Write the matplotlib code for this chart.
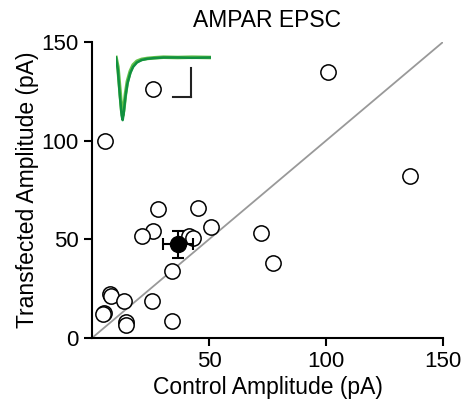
import matplotlib.pyplot as plt

plt.rcParams['font.family'] = ['Liberation Sans', 'DejaVu Sans']

# individual cells (control vs transfected amplitude, pA)
control = [5.5, 26, 101, 136, 28, 45.3, 50.7, 26, 21.2, 41.6, 43.3, 72.1, 77.2,
           34, 7.7, 8, 13.7, 25.5, 5.1, 4.8, 14.5, 14.5, 34.2]
transfected = [100, 126, 135, 82, 65.5, 66, 56, 54, 51.5, 51.5, 50.5, 53, 38,
               34, 22.5, 21.5, 19, 19, 12.5, 12, 8, 6.5, 8.5]

# mean +/- sem
mean_x, mean_y = 36.8, 47.5
sem_x, sem_y = 6.3, 6.8

# example traces for inset (normalized)
trace_t = [0, 2, 4, 6, 7, 8, 10, 12, 15, 18, 22, 27, 33, 40, 50, 65, 80, 100]
trace_ctrl = [0, -0.2, -0.6, -0.93, -1.0, -0.9, -0.62, -0.42, -0.25, -0.15,
              -0.08, -0.04, -0.02, -0.01, 0, 0, -0.005, 0]
trace_tf = [0, -0.15, -0.5, -0.85, -0.93, -0.85, -0.58, -0.38, -0.22, -0.12,
            -0.06, -0.03, -0.015, -0.005, 0.005, 0.0, 0.005, 0.0]

fig = plt.figure(figsize=(4.64, 4.11), dpi=100)
ax = fig.add_axes([92/464, 73/411, 351/464, 296/411])

ax.plot([0, 150], [0, 150], color='#999999', lw=1.3, zorder=1)
ax.plot(control, transfected, 'o', mfc='white', mec='black', mew=1.1,
        ms=11, clip_on=False, zorder=3)
ax.errorbar(mean_x, mean_y, xerr=sem_x, yerr=sem_y, fmt='o', color='black',
            ms=11.5, elinewidth=1.5, capsize=4, capthick=1.5, zorder=4)

ax.set_xlim(0, 150)
ax.set_ylim(0, 150)
ax.set_xticks([50, 100, 150])
ax.set_yticks([0, 50, 100, 150])
ax.spines['top'].set_visible(False)
ax.spines['right'].set_visible(False)
ax.spines['left'].set_linewidth(1.5)
ax.spines['bottom'].set_linewidth(1.5)
ax.tick_params(width=1.5, length=6, labelsize=16)
ax.set_xlabel('Control Amplitude (pA)', fontsize=16.5, labelpad=3)
ax.set_ylabel('Transfected Amplitude (pA)', fontsize=16.5, labelpad=2)
ax.set_title('AMPAR EPSC', fontsize=16.5, pad=11)

# inset with example traces and scale bar
ins = fig.add_axes([116/464, (411-122)/411, 95/464, 67/411])
ins.plot(trace_t, trace_tf, color='#66c24a', lw=2.6)
ins.plot(trace_t, trace_ctrl, color='#109040', lw=1.8)
ins.plot([0.79, 0.79], [0.373, 0.806], color='#222222', lw=1.5, transform=ins.transAxes)
ins.plot([0.6, 0.79], [0.373, 0.373], color='#222222', lw=1.5, transform=ins.transAxes)
ins.set_xlim(0, 100)
ins.set_ylim(-1.03, 0.04)
ins.axis('off')

fig.savefig('out.png', dpi=100)
